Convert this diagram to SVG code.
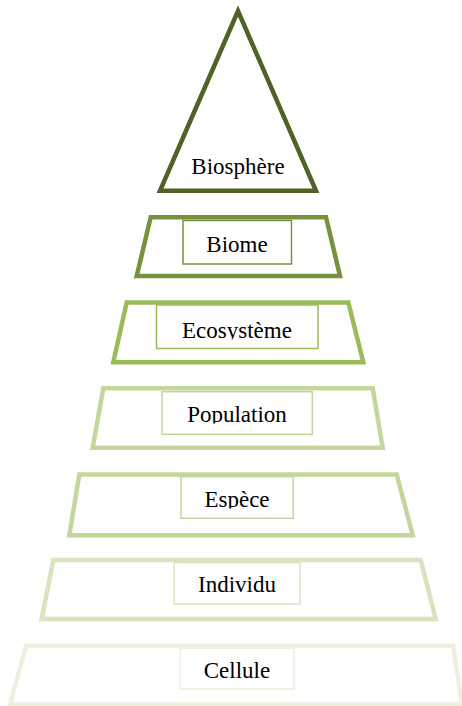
<svg xmlns="http://www.w3.org/2000/svg" width="462" height="706" viewBox="0 0 462 706">
<style>
.shape{fill:#ffffff;stroke-width:4.5;stroke-linejoin:miter}
.box{fill:#ffffff;stroke-width:1.5}
.lbl{font-family:"Liberation Serif","Times New Roman",serif;font-size:23px;fill:#000000;text-anchor:middle}
</style>
<defs>
<clipPath id="c2"><rect x="150" y="300" width="180" height="39.5"/></clipPath>
<clipPath id="c3"><rect x="150" y="385" width="180" height="38.5"/></clipPath>
<clipPath id="c4"><rect x="150" y="470" width="180" height="38.5"/></clipPath>
</defs>
<rect width="462" height="706" fill="#ffffff"/>
<g id="biosphere">
<polygon class="shape" stroke="#4f6228" points="238,11 316,190.8 160,190.8"/>
<text class="lbl" x="238" y="174.3">Biosphère</text>
</g>
<g id="biome">
<polygon class="shape" stroke="#76923c" points="150.7,217.3 326,217.3 340,276 136.7,276"/>
<rect class="box" stroke="#76923c" x="183" y="220.5" width="108.5" height="43.5"/>
<text class="lbl" x="237" y="252">Biome</text>
</g>
<g id="ecosysteme">
<polygon class="shape" stroke="#9bbb59" points="126.7,302.5 348.3,302.5 363.3,362.3 113.3,362.3"/>
<rect class="box" stroke="#9bbb59" x="156.5" y="305" width="161.5" height="43.5"/>
<text class="lbl" x="237" y="338" clip-path="url(#c2)">Ecosystème</text>
</g>
<g id="population">
<polygon class="shape" stroke="#c3d69b" points="103.3,388.3 372.7,388.3 382.7,447.7 92.7,447.7"/>
<rect class="box" stroke="#c3d69b" x="162" y="391.7" width="150.3" height="42.6"/>
<text class="lbl" x="237" y="421.7" clip-path="url(#c3)">Population</text>
</g>
<g id="espece">
<polygon class="shape" stroke="#c3d69b" points="79.3,474.5 396.7,474.5 412.7,535.3 69.3,535.3"/>
<rect class="box" stroke="#c3d69b" x="181" y="476.7" width="112.3" height="41.6"/>
<text class="lbl" x="237" y="506.7" clip-path="url(#c4)">Espèce</text>
</g>
<g id="individu">
<polygon class="shape" stroke="#d7e4bd" points="53.3,560 420.7,560 435.7,619 41.7,619"/>
<rect class="box" stroke="#d7e4bd" x="174.3" y="562.7" width="125.7" height="41.3"/>
<text class="lbl" x="237" y="591.7">Individu</text>
</g>
<g id="cellule">
<polygon class="shape" stroke="#ebf1de" points="26,645.8 453,645.8 462,704.5 10,704.5"/>
<rect class="box" stroke="#ebf1de" x="180.3" y="648.3" width="113.7" height="40.7"/>
<text class="lbl" x="237" y="678.3">Cellule</text>
</g>
<g id="connectors"/>
</svg>
